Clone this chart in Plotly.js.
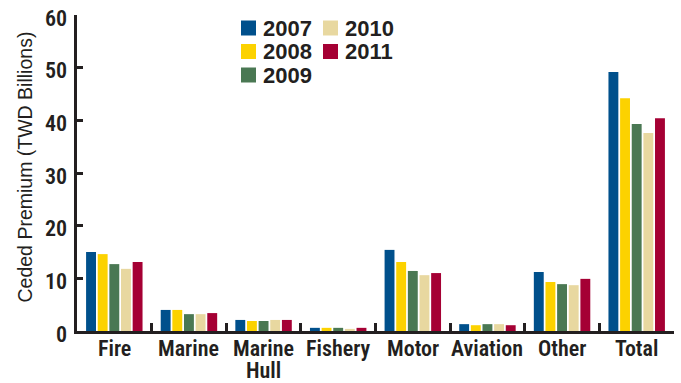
<!DOCTYPE html>
<html>
<head>
<meta charset="utf-8">
<script src="https://cdn.plot.ly/plotly-3.0.1.min.js"></script>
<style>
  html, body { margin: 0; padding: 0; background: #ffffff; }
  #chart { width: 681px; height: 383px; }
</style>
</head>
<body>
<div id="chart"></div>
<script>
// Ceded premium by line of business, 2007-2011 (TWD billions)
const categories = ['Fire', 'Marine', 'Marine<br>Hull', 'Fishery', 'Motor', 'Aviation', 'Other', 'Total'];
const years = ['2007', '2008', '2009', '2010', '2011'];
const v2007 = [15.0, 4.0, 2.1, 0.6, 15.4, 1.3, 11.2, 49.2];
const v2008 = [14.6, 4.0, 1.9, 0.6, 13.1, 1.1, 9.3, 44.2];
const v2009 = [12.7, 3.2, 1.9, 0.6, 11.4, 1.3, 8.9, 39.3];
const v2010 = [11.8, 3.2, 2.1, 0.4, 10.6, 1.3, 8.7, 37.6];
const v2011 = [13.1, 3.4, 2.1, 0.6, 11.0, 1.1, 9.9, 40.4];
const yTicks = [0, 10, 20, 30, 40, 50, 60];

const series = [v2007, v2008, v2009, v2010, v2011];
const colors = ['#00508c', '#fcd200', '#4a7853', '#e8d8a0', '#a50034'];
const ink = '#231f20';
const sans = "'Liberation Sans', Arimo, Arial, sans-serif";
const cond = "'Roboto Condensed', 'Liberation Sans Narrow', 'Arial Narrow', sans-serif";

// plot box in pixels, used to place the hand-drawn legend and labels
const W = 681, H = 383;
const M = { l: 77, r: 7, t: 15, b: 52 };
const pw = W - M.l - M.r, ph = H - M.t - M.b;
const px = x => (x - M.l) / pw;
const py = y => (H - M.b - y) / ph;

const traces = series.map((vals, i) => ({
  type: 'bar',
  name: years[i],
  x: categories,
  y: vals,
  marker: { color: colors[i], line: { width: 0 } },
  hoverinfo: 'x+y+name',
  showlegend: false
}));

const shapes = [];
const annotations = [];

// legend: two columns (2007-2009, 2010-2011)
years.forEach((yr, i) => {
  const col = Math.floor(i / 3), row = i % 3;
  const sx = 241 + col * 82;
  const cy = 28 + row * 23.5;
  shapes.push({
    type: 'rect', xref: 'paper', yref: 'paper',
    x0: px(sx), x1: px(sx + 15), y0: py(cy + 7.5), y1: py(cy - 7.5),
    fillcolor: colors[i], line: { width: 0 }
  });
  annotations.push({
    xref: 'paper', yref: 'paper', x: px(sx + 21), y: py(cy),
    xanchor: 'left', yanchor: 'middle', showarrow: false, borderpad: 0,
    text: yr, font: { family: sans, size: 22, color: ink, weight: 'bold' }
  });
});

// category labels under the axis, one line each so the wrap stays tight
categories.forEach(cat => {
  cat.split('<br>').forEach((line, k) => {
    annotations.push({
      xref: 'x', yref: 'paper', x: cat, y: py(348.5 + k * 22),
      xanchor: 'center', yanchor: 'middle', showarrow: false, borderpad: 0,
      text: line, font: { family: cond, size: 22, color: ink, weight: 600 }
    });
  });
});

// value labels on the y axis, sitting a little below each tick
yTicks.forEach(v => {
  annotations.push({
    xref: 'paper', yref: 'y', x: px(68), y: v, yshift: -3,
    xanchor: 'right', yanchor: 'middle', showarrow: false, borderpad: 0,
    text: String(v), font: { family: cond, size: 22, color: ink, weight: 600 }
  });
});

annotations.push({
  xref: 'paper', yref: 'paper', x: px(24), y: py(167.5),
  xanchor: 'center', yanchor: 'middle', showarrow: false, textangle: -90,
  text: 'Ceded Premium (TWD Billions)',
  font: { family: sans, size: 19.5, color: ink }
});

const layout = {
  width: W, height: H,
  margin: M,
  paper_bgcolor: '#ffffff', plot_bgcolor: '#ffffff',
  barmode: 'group', bargap: 0.22, bargroupgap: 0.15,
  showlegend: false,
  xaxis: {
    type: 'category', showticklabels: false,
    showline: true, linecolor: ink, linewidth: 3,
    ticks: 'inside', tickson: 'boundaries', ticklen: 8, tickwidth: 3, tickcolor: ink,
    showgrid: false, zeroline: false, fixedrange: true
  },
  yaxis: {
    range: [0, 60], tickvals: yTicks, showticklabels: false,
    showline: true, linecolor: ink, linewidth: 3,
    ticks: 'inside', ticklen: 6, tickwidth: 3, tickcolor: ink,
    showgrid: false, zeroline: false, fixedrange: true
  },
  shapes: shapes,
  annotations: annotations
};

Plotly.newPlot('chart', traces, layout, { displayModeBar: false, staticPlot: true });
</script>
</body>
</html>
